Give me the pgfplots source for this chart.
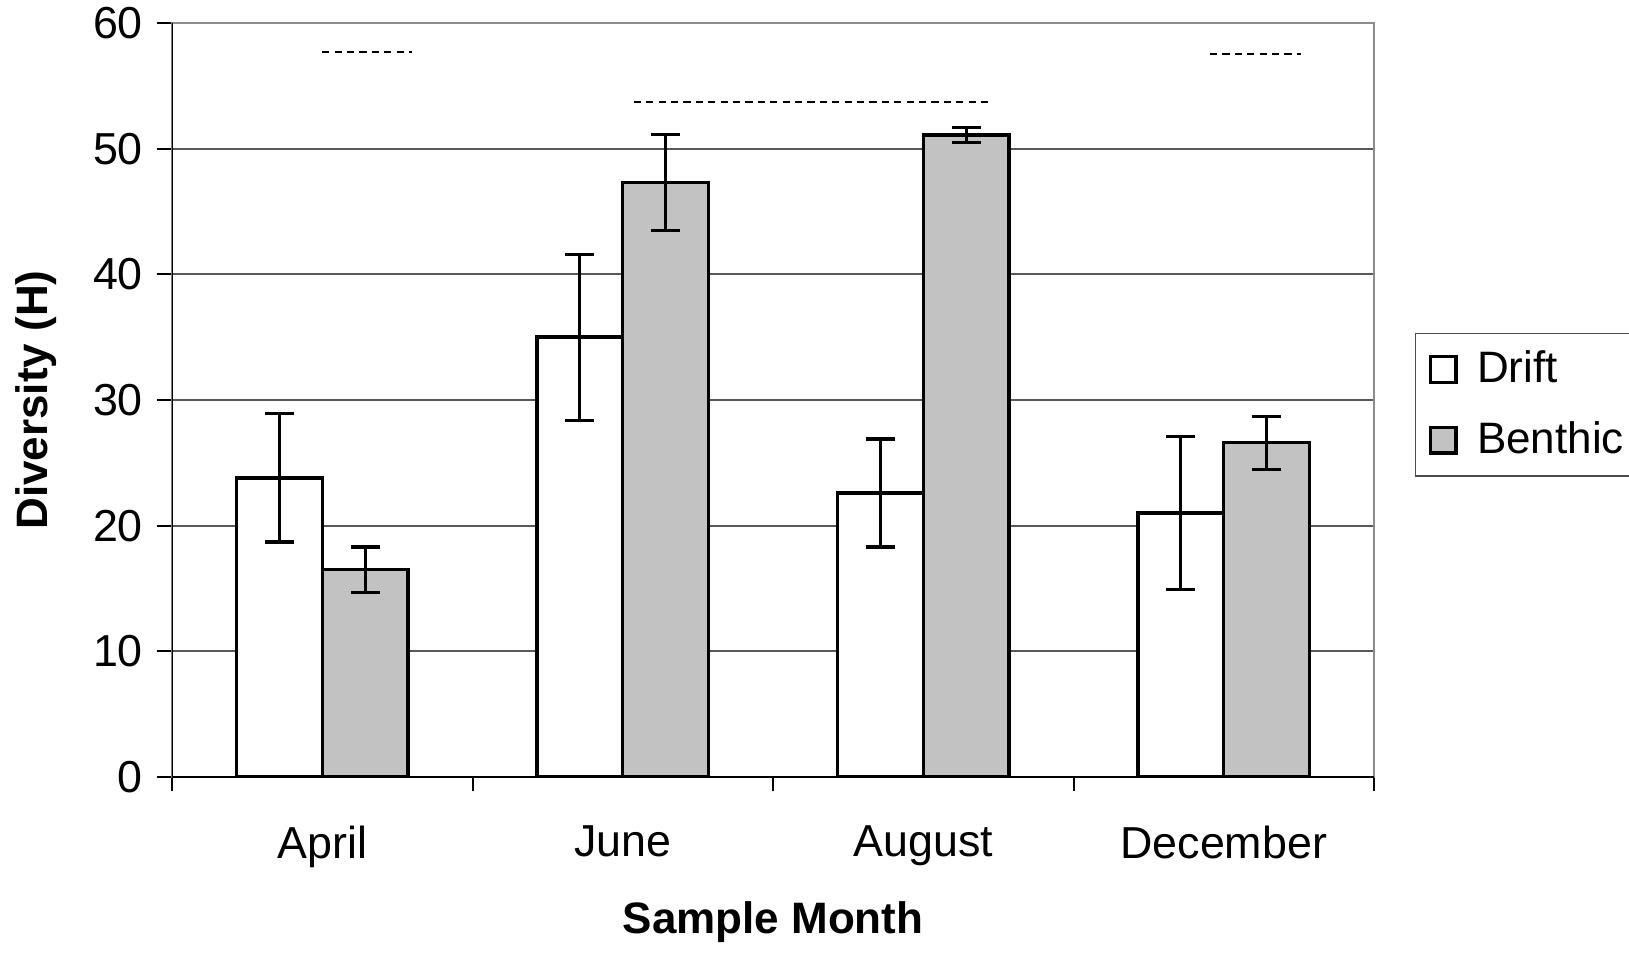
\documentclass[border=0pt]{standalone}
\usepackage{fontspec}
\setmainfont{Liberation Sans}
\usepackage{pgfplots}
\pgfplotsset{compat=1.18}
\definecolor{benthic}{RGB}{194,194,194}
\begin{document}
\begin{tikzpicture}
\begin{axis}[
  scale only axis,
  width=300.5pt, height=188.5pt,
  xmin=-0.5, xmax=3.5, ymin=0, ymax=60,
  /pgf/number format/assume math mode=true,
  tick label style={font=\fontsize{11.2}{13}\selectfont},
  ytick={0,10,20,30,40,50,60},
  ytick pos=left, xtick pos=bottom,
  tick align=outside,
  major tick length=3.75pt, minor tick length=3.6pt,
  tick style={black, line width=0.5pt},
  xtick={0,1,2,3},
  xticklabels={April,June,August,December},
  major x tick style={draw=none},
  minor xtick={-0.5,0.5,1.5,2.5,3.5},
  ymajorgrids,
  major grid style={black!65, line width=0.45pt},
  axis line style={draw=black!45, line width=0.6pt},
  xticklabel style={yshift=-5pt},
  xlabel={\bfseries Sample Month},
  ylabel={\bfseries Diversity (H)},
  label style={font=\fontsize{11}{13}\selectfont},
  xlabel style={at={(axis description cs:0.5,-0.192)}, anchor=center},
  ylabel style={at={(axis description cs:-0.1128,0.5)}, anchor=center},
  legend style={at={(1.034,0.589)}, anchor=north west, draw=black!70,
    font=\fontsize{11}{13}\selectfont, inner xsep=3.3pt, inner ysep=2.2pt,
    row sep=4.2pt, column sep=2.8pt},
  legend cell align=left,
  legend image code/.code={\draw[#1] (0pt,-3.2pt) rectangle (6.4pt,3.2pt);},
]
\addplot[ybar, bar width=0.2857, bar shift=0pt, fill=white, draw=black, line width=0.85pt,
  error bars/.cd, y dir=both, y explicit,
  error bar style={line width=0.8pt},
  error mark options={rotate=90, mark size=3.6pt, line width=0.8pt}]
  coordinates {
  (-0.14285,23.8) +- (0,5.1)
  (0.85715,35.0) +- (0,6.6)
  (1.85715,22.6) +- (0,4.3)
  (2.85715,21.0) +- (0,6.1)
  };
\addlegendentry{Drift}
\addplot[ybar, bar width=0.2857, bar shift=0pt, fill=benthic, draw=black, line width=0.85pt,
  error bars/.cd, y dir=both, y explicit,
  error bar style={line width=0.8pt},
  error mark options={rotate=90, mark size=3.6pt, line width=0.8pt}]
  coordinates {
  (0.14285,16.5) +- (0,1.8)
  (1.14285,47.3) +- (0,3.8)
  (2.14285,51.1) +- (0,0.6)
  (3.14285,26.6) +- (0,2.1)
  };
\addlegendentry{Benthic}
\addplot[black, line width=0.5pt, dash pattern=on 1.8pt off 1.3pt, forget plot] coordinates {(0.0,57.7) (0.30,57.7)};
\addplot[black, line width=0.5pt, dash pattern=on 1.8pt off 1.3pt, forget plot] coordinates {(1.037,53.7) (2.229,53.7)};
\addplot[black, line width=0.5pt, dash pattern=on 1.8pt off 1.3pt, forget plot] coordinates {(2.954,57.5) (3.258,57.5)};
\draw[black, line width=0.6pt] (rel axis cs:0,1) -- (rel axis cs:0,0) -- (rel axis cs:1,0);
\coordinate (sw) at (rel axis cs:0,0);
\coordinate (ne) at (rel axis cs:1,1);
\end{axis}
\pgfresetboundingbox
\path ([shift={(-43pt,-44pt)}]sw) rectangle ([shift={(63.75pt,5.75pt)}]ne);
\end{tikzpicture}
\end{document}
